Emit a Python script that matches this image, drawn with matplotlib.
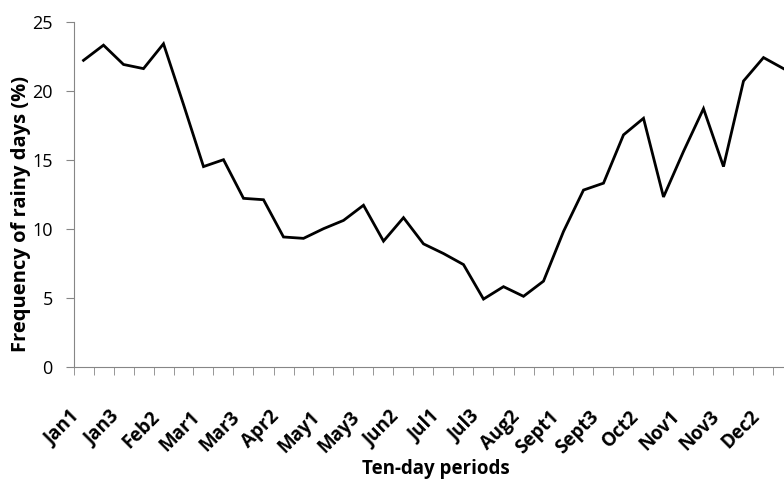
import numpy as np
import matplotlib
matplotlib.use("Agg")
import matplotlib.pyplot as plt

# Ten-day periods, Jan1 .. Dec3
months = ["Jan", "Feb", "Mar", "Apr", "May", "Jun",
          "Jul", "Aug", "Sept", "Oct", "Nov", "Dec"]
periods = [m + str(k) for m in months for k in (1, 2, 3)]

# frequency of rainy days (%)
freq = [22.2, 23.3, 21.9, 21.6, 23.4, 19.0,
        14.5, 15.0, 12.2, 12.1, 9.4, 9.3,
        10.0, 10.6, 11.7, 9.1, 10.8, 8.9,
        8.2, 7.4, 4.9, 5.8, 5.1, 6.2,
        9.8, 12.8, 13.3, 16.8, 18.0, 12.3,
        15.6, 18.7, 14.5, 20.7, 22.4, 21.6]

plt.rcParams['font.family'] = ['Open Sans', 'DejaVu Sans']

fig = plt.figure(figsize=(7.84, 4.79), dpi=100)
# axes run past the right edge of the picture, like the original crop
ax = fig.add_axes([73.5 / 784, 1 - 366.7 / 479, 720 / 784, 345 / 479])

x = np.arange(len(periods)) + 0.5
ax.plot(x, freq, color='black', lw=2.0, solid_joinstyle='miter')

ax.set_xlim(0, len(periods))
ax.set_ylim(0, 25)
ax.set_yticks([0, 5, 10, 15, 20, 25])

# category boundaries get the tick marks, every second period gets a label
ax.set_xticks(np.arange(len(periods) + 1), minor=True)
ax.set_xticks(x[::2] - 0.35)
ax.set_xticklabels(periods[::2], rotation=45, ha='right', va='center',
                   rotation_mode='anchor', fontweight='bold', fontsize=13.5)
ax.tick_params(axis='x', which='major', length=0, pad=34)
ax.tick_params(axis='x', which='minor', length=6, color='#868686')
ax.tick_params(axis='y', length=6, color='#868686', labelsize=13, pad=9)

for s in ('top', 'right'):
    ax.spines[s].set_visible(False)
for s in ('left', 'bottom'):
    ax.spines[s].set_color('#868686')

ax.set_ylabel('Frequency of rainy days (%)', fontweight='bold', fontsize=14.5, va='center')
ax.yaxis.set_label_coords((21 - 73.5) / 720, (366.7 - 213.5) / 345)
ax.set_xlabel('Ten-day periods', fontweight='bold', fontsize=13.5, va='top')
ax.xaxis.set_label_coords((436 - 73.5) / 720, (366.7 - 459) / 345)

fig.savefig('out.png', dpi=100)
